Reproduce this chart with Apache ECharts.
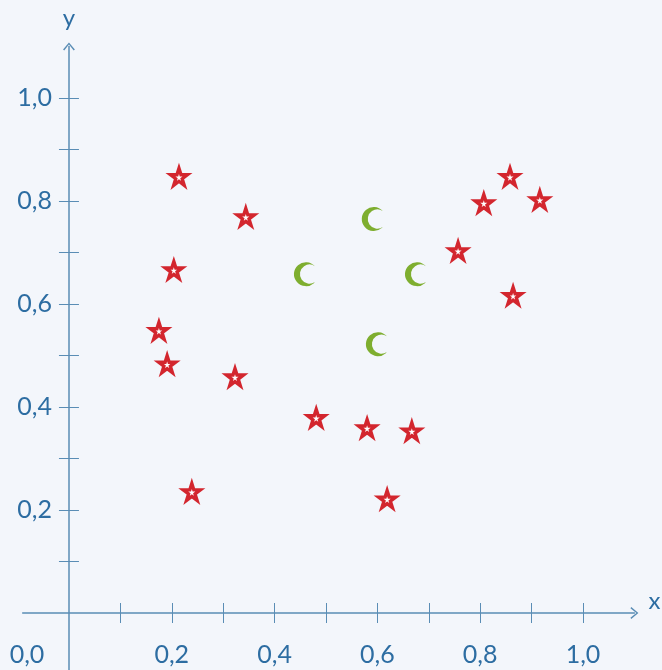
<!DOCTYPE html>
<html>
<head>
<meta charset="utf-8">
<script src="https://cdn.jsdelivr.net/npm/echarts@6/dist/echarts.min.js"></script>
<style>
  html, body { margin: 0; padding: 0; background: #f3f6fb; }
  #chart { width: 662px; height: 670px; }
</style>
</head>
<body>
<div id="chart"></div>
<script>
// stars (red)
var starX = [0.214, 0.204, 0.175, 0.191, 0.239, 0.344, 0.323, 0.481, 0.580, 0.667, 0.619, 0.757, 0.807, 0.858, 0.916, 0.864];
var starY = [0.847, 0.666, 0.548, 0.483, 0.235, 0.769, 0.458, 0.379, 0.359, 0.353, 0.221, 0.703, 0.796, 0.847, 0.802, 0.616];
// crescents (green)
var moonX = [0.461, 0.593, 0.677, 0.601];
var moonY = [0.658, 0.765, 0.658, 0.522];
// axis ticks / labels
var tickValues = [0.1, 0.2, 0.3, 0.4, 0.5, 0.6, 0.7, 0.8, 0.9, 1.0];
var xLabelValues = [0, 0.2, 0.4, 0.6, 0.8, 1.0];
var yLabelValues = [0.2, 0.4, 0.6, 0.8, 1.0];

var axisColor = '#5a8db5';
var labelColor = '#2d6da2';
var arrowPath = 'path://M0,12L10,0L20,12L18,13.5L10,3.5L2,13.5Z';
var starPath = 'path://M10,0L12.4,7.2L20,7.2L13.8,11.7L16.2,19L10,14.5L3.8,19L6.2,11.7L0,7.2L7.6,7.2Z';
var moonPath = 'path://M17.5,3.39A10,10,0,1,0,17.5,16.61A8,8,0,1,1,17.5,3.39Z';

function fmt(v) {
  return v.toFixed(1).replace('.', ',');
}

var chart = echarts.init(document.getElementById('chart'));

// second axis of each pair only carries the ticks on the other side
function tickAxis(min, max, inside) {
  return {
    type: 'value', min: min, max: max,
    axisLine: { show: true, onZero: true, onZeroAxisIndex: 0, lineStyle: { color: 'rgba(0,0,0,0)', width: 1 } },
    axisTick: { show: true, customValues: tickValues, inside: inside, length: 10, lineStyle: { color: axisColor, width: 1 } },
    axisLabel: { show: false },
    splitLine: { show: false }
  };
}

chart.setOption({
  backgroundColor: '#f3f6fb',
  animation: false,
  grid: { left: 22.7, right: 27.6, top: 46.5, bottom: 0.35, containLabel: false, outerBoundsMode: 'none' },
  xAxis: [
    {
      type: 'value', min: -0.09, max: 1.1,
      name: 'x', nameGap: 14,
      nameTextStyle: { fontFamily: 'Lato', fontSize: 24, color: labelColor, verticalAlign: 'bottom' },
      axisLine: { onZero: true, onZeroAxisIndex: 0, symbol: ['none', arrowPath], symbolSize: [14, 8], lineStyle: { color: axisColor, width: 1.5 } },
      axisTick: { customValues: tickValues, inside: false, length: 10, lineStyle: { color: axisColor, width: 1 } },
      axisLabel: {
        customValues: xLabelValues, margin: -27,
        fontFamily: 'Lato', fontSize: 25, color: labelColor,
        formatter: function (v) { return v === 0 ? '{o|0,0}' : fmt(v); },
        rich: { o: { fontFamily: 'Lato', fontSize: 25, color: labelColor, padding: [0, 84, 0, 0] } }
      },
      splitLine: { show: false }
    },
    Object.assign(tickAxis(-0.09, 1.1, true), { position: 'bottom' })
  ],
  yAxis: [
    {
      type: 'value', min: -0.11, max: 1.1, position: 'left',
      name: 'y', nameGap: 16,
      nameTextStyle: { fontFamily: 'Lato', fontSize: 24, color: labelColor },
      axisLine: { onZero: true, onZeroAxisIndex: 0, symbol: ['none', arrowPath], symbolSize: [14, 8], lineStyle: { color: axisColor, width: 1.5 } },
      axisTick: { customValues: tickValues, inside: false, length: 10, lineStyle: { color: axisColor, width: 1 } },
      axisLabel: {
        customValues: yLabelValues, margin: -29.3,
        fontFamily: 'Lato', fontSize: 25, color: labelColor,
        formatter: fmt
      },
      splitLine: { show: false }
    },
    Object.assign(tickAxis(-0.11, 1.1, true), { position: 'left' })
  ],
  series: [
    {
      type: 'scatter',
      symbol: starPath,
      symbolSize: 17,
      itemStyle: { color: '#ffffff', borderColor: '#d3262e', borderWidth: 3.4, opacity: 1 },
      data: starX.map(function (x, i) { return [x, starY[i]]; })
    },
    {
      type: 'scatter',
      symbol: moonPath,
      symbolSize: [21, 24],
      symbolOffset: [-1.5, 0],
      itemStyle: { color: '#7eae2f', opacity: 1 },
      data: moonX.map(function (x, i) { return [x, moonY[i]]; })
    }
  ]
});
</script>
</body>
</html>
